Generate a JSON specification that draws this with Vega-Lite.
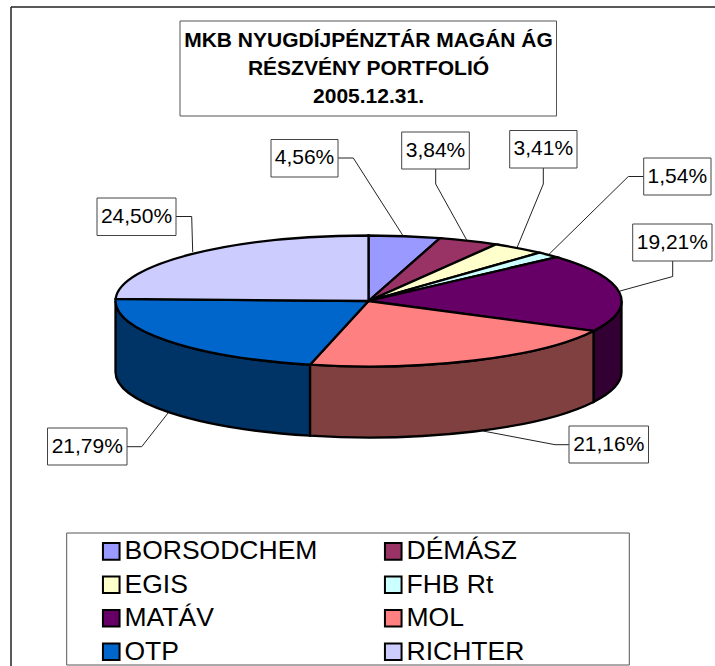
{"$schema":"https://vega.github.io/schema/vega-lite/v6.json","width":715,"height":666,"autosize":"none","padding":0,"background":"white","config":{"view":{"stroke":null},"font":"Liberation Sans","text":{"font":"Liberation Sans"}},
"data":{"values":[{"name":"BORSODCHEM","value":4.56},{"name":"DÉMÁSZ","value":3.84},{"name":"EGIS","value":3.41},{"name":"FHB Rt","value":1.54},{"name":"MATÁV","value":19.21},{"name":"MOL","value":21.16},{"name":"OTP","value":21.79},{"name":"RICHTER","value":24.5}]},
"transform":[
{"stack":"value","sort":[{"field":"name","order":"ascending"}],"offset":"normalize","as":["v0","v1"]},
{"calculate":"datum.v0*2*PI","as":"a0"},{"calculate":"datum.v1*2*PI","as":"a1"},
{"calculate":"{'BORSODCHEM':{x:271,x2:338,y:139.5,y2:177,ax:338,ay:158,ex:353.3,ey:158,rx:403,ry:235.7},'DÉMÁSZ':{x:401.7,x2:469.3,y:132,y2:169,ax:435.7,ay:169,ex:435.7,ey:184,rx:466.7,ry:240},'EGIS':{x:509.7,x2:577,y:130.5,y2:168,ax:543.3,ay:168,ex:543.3,ey:184,rx:517.3,ry:247},'FHB Rt':{x:643.7,x2:711,y:158,y2:195,ax:643.7,ay:176.5,ex:628.3,ey:176.5,rx:548.3,ry:255},'MATÁV':{x:632.7,x2:712,y:224,y2:261,ax:672.7,ay:261,ex:672.7,ey:276.5,rx:620,ry:291},'MOL':{x:569,x2:648.5,y:426,y2:463,ax:569,ay:444.7,ex:555,ey:444.7,rx:483,ry:431},'OTP':{x:47.5,x2:127,y:428,y2:465,ax:127,ay:446.7,ex:141.7,ey:446.7,rx:168.3,ry:412.7},'RICHTER':{x:97,x2:176,y:198,y2:235.5,ax:176,ay:216.5,ex:191.7,ey:216.5,rx:192.7,ry:252}}[datum.name]","as":"lab"},
{"calculate":"(datum.lab.x+datum.lab.x2)/2","as":"tx"},{"calculate":"(datum.lab.y+datum.lab.y2)/2","as":"ty"},
{"calculate":"replace(format(datum.value,'.2f'),'.',',')+'%'","as":"pct"}
],
"layer":[
{"data":{"values":[{"k":1}]},"mark":{"type":"rule","stroke":"#222","strokeWidth":1.5},"encoding":{"x":{"value":11},"y":{"value":7},"y2":{"value":666}}},
{"data":{"values":[{"k":1}]},"mark":{"type":"rule","stroke":"#222","strokeWidth":1.5},"encoding":{"x":{"value":11},"x2":{"value":715},"y":{"value":7}}},
{"data":{"values":[{"k":1}]},"mark":{"type":"rect","fill":"white","stroke":"#555","strokeWidth":1},"encoding":{"x":{"value":180},"x2":{"value":556.5},"y":{"value":21},"y2":{"value":116}}},
{"data":{"values":[{"k":1}]},"mark":{"type":"text","text":["MKB NYUGDÍJPÉNZTÁR MAGÁN ÁG","RÉSZVÉNY PORTFOLIÓ","2005.12.31."],"font":"Liberation Sans","fontWeight":"bold","fontSize":21,"lineHeight":28,"align":"center","baseline":"alphabetic","color":"black"},"encoding":{"x":{"value":368.5},"y":{"value":46.5}}},
{"data":{"values":[{"k":1}]},"mark":{"type":"rect","fill":"white","stroke":"#555","strokeWidth":1},"encoding":{"x":{"value":66.7},"x2":{"value":629.3},"y":{"value":533},"y2":{"value":665}}},
{"transform":[{"calculate":"max(datum.a0,PI/2)","as":"t0"},{"calculate":"min(datum.a1,3*PI/2)","as":"t1"},{"filter":"datum.t1>datum.t0"},
{"calculate":"round(25300*sin(datum.t0))/100","as":"wx0"},{"calculate":"round(-6550*cos(datum.t0))/100","as":"wy0"},{"calculate":"round(25300*sin(datum.t1))/100","as":"wx1"},{"calculate":"round(-6550*cos(datum.t1))/100","as":"wy1"},
{"calculate":"'M'+datum.wx0+','+datum.wy0+'A253,65.5 0 0,1 '+datum.wx1+','+datum.wy1+'L'+datum.wx1+','+(datum.wy1+71)+'A253,65.5 0 0,0 '+datum.wx0+','+(datum.wy0+71)+'Z'","as":"wall"}],
"mark":{"type":"point","filled":true,"opacity":1,"stroke":"black","strokeWidth":2.3,"size":4},
"encoding":{"x":{"value":368.5},"y":{"value":301},"shape":{"field":"wall","type":"nominal","scale":null,"legend":null},
"color":{"field":"name","type":"nominal","legend":null,"scale":{"domain":["MATÁV","MOL","OTP"],"range":["#330033","#804040","#003366"]}}}},
{"transform":[{"calculate":"round(25300*sin(datum.a0))/100","as":"wx0"},{"calculate":"round(-6550*cos(datum.a0))/100","as":"wy0"},{"calculate":"round(25300*sin(datum.a1))/100","as":"wx1"},{"calculate":"round(-6550*cos(datum.a1))/100","as":"wy1"},
{"calculate":"'M0,0L'+datum.wx0+','+datum.wy0+'A253,65.5 0 '+(datum.a1-datum.a0>PI?'1':'0')+',1 '+datum.wx1+','+datum.wy1+'Z'","as":"wedge"}],
"mark":{"type":"point","filled":true,"opacity":1,"stroke":"black","strokeWidth":2.3,"size":4},
"encoding":{"x":{"value":368.5},"y":{"value":301},"shape":{"field":"wedge","type":"nominal","scale":null,"legend":null},
"color":{"field":"name","type":"nominal","scale":{"domain":["BORSODCHEM","DÉMÁSZ","EGIS","FHB Rt","MATÁV","MOL","OTP","RICHTER"],"range":["#9999FF","#993366","#FFFFCC","#CCFFFF","#660066","#FF8080","#0066CC","#CCCCFF"]},
"legend":{"title":null,"orient":"none","direction":"horizontal","legendX":98,"legendY":538,"columns":2,"symbolType":"square","symbolSize":276,"symbolStrokeColor":"black","symbolStrokeWidth":2,"symbolOpacity":1,"labelFont":"Liberation Sans","labelFontSize":26.5,"labelColor":"black","labelOffset":0,"columnPadding":62,"rowPadding":6.5,"padding":0,"labelLimit":400}}}},
{"mark":{"type":"rule","stroke":"#222","strokeWidth":1},"encoding":{"x":{"field":"lab.ax","type":"quantitative","scale":null},"y":{"field":"lab.ay","type":"quantitative","scale":null},"x2":{"field":"lab.ex"},"y2":{"field":"lab.ey"}}},
{"mark":{"type":"rule","stroke":"#222","strokeWidth":1},"encoding":{"x":{"field":"lab.ex","type":"quantitative","scale":null},"y":{"field":"lab.ey","type":"quantitative","scale":null},"x2":{"field":"lab.rx"},"y2":{"field":"lab.ry"}}},
{"mark":{"type":"rect","fill":"white","stroke":"#444","strokeWidth":1},"encoding":{"x":{"field":"lab.x","type":"quantitative","scale":null},"x2":{"field":"lab.x2"},"y":{"field":"lab.y","type":"quantitative","scale":null},"y2":{"field":"lab.y2"}}},
{"mark":{"type":"text","font":"Liberation Sans","fontSize":21,"color":"black","align":"center","baseline":"middle"},"encoding":{"x":{"field":"tx","type":"quantitative","scale":null},"y":{"field":"ty","type":"quantitative","scale":null},"text":{"field":"pct"}}}
],
"resolve":{"scale":{"color":"independent"}}}
